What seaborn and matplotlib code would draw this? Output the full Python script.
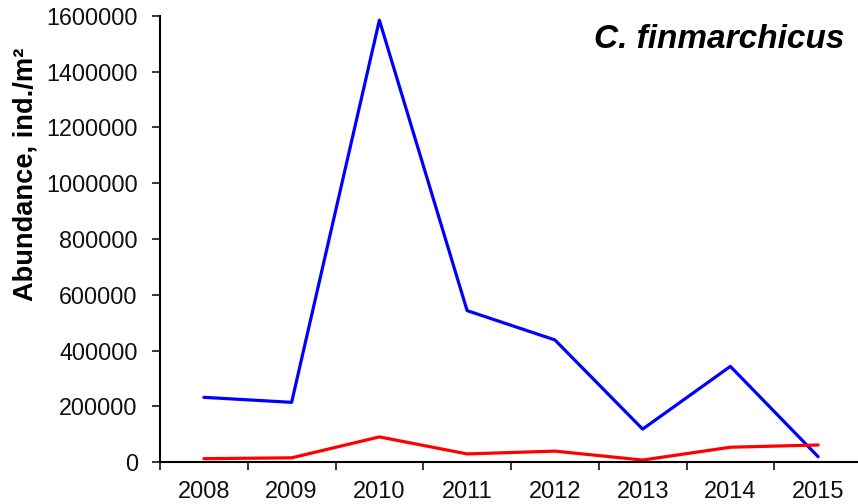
import matplotlib
matplotlib.use("Agg")
import matplotlib.pyplot as plt
import numpy as np
import pandas as pd
import seaborn as sns

# Annual abundance of Calanus finmarchicus (ind./m²)
years = ["2008", "2009", "2010", "2011", "2012", "2013", "2014", "2015"]
blue_series = [232000, 214000, 1585000, 543000, 438000, 118000, 343000, 19000]
red_series = [12000, 15000, 90000, 29000, 39000, 7000, 53000, 61000]

sns.set_style("ticks")
plt.rcParams["font.family"] = ["Liberation Sans", "DejaVu Sans"]

df = pd.DataFrame({
    "pos": list(range(len(years))) * 2,
    "value": blue_series + red_series,
    "series": ["blue"] * len(years) + ["red"] * len(years),
})

fig = plt.figure(figsize=(8.58, 5.04), dpi=100)
ax = fig.add_axes([160 / 858, 42 / 504, 702 / 858, 446 / 504])

sns.lineplot(data=df, x="pos", y="value", hue="series",
             palette={"blue": "#0000ff", "red": "#ff0000"},
             linewidth=2.3, legend=False, ax=ax)

ax.set_xlim(-0.5, len(years) - 0.5)
ax.set_ylim(0, 1600000)
ax.set_yticks(np.arange(0, 1600001, 200000))
ax.set_yticklabels([f"{int(v)}" for v in np.arange(0, 1600001, 200000)],
                   fontsize=16.8, color="#111111")

# category axis: ticks between years, labels centred on years
ax.set_xticks(np.arange(-0.5, len(years), 1.0))
ax.set_xticklabels([])
ax.set_xticks(np.arange(len(years)), minor=True)
ax.set_xticklabels(years, minor=True, fontsize=17, color="#111111")
ax.tick_params(axis="x", which="minor", length=0, pad=14)
ax.tick_params(axis="x", which="major", length=6, width=1.3, direction="out")
ax.tick_params(axis="y", length=6, width=1.3, direction="out", pad=10)

ax.set_xlabel("")
ax.set_ylabel("Abundance, ind./m²", fontsize=19.6, fontweight="bold",
              color="black")
ax.yaxis.set_label_coords(-0.192, 0.646)
ax.yaxis.label.set_verticalalignment("center")

for side in ["top", "right"]:
    ax.spines[side].set_visible(False)
for side in ["left", "bottom"]:
    ax.spines[side].set_linewidth(1.5)
    ax.spines[side].set_color("black")

ax.text(845 / 858, 1 - 40 / 504, "C. finmarchicus", transform=fig.transFigure,
        ha="right", va="center", fontsize=24, fontweight="bold", style="italic",
        color="black")

fig.savefig("out.png", dpi=100)
